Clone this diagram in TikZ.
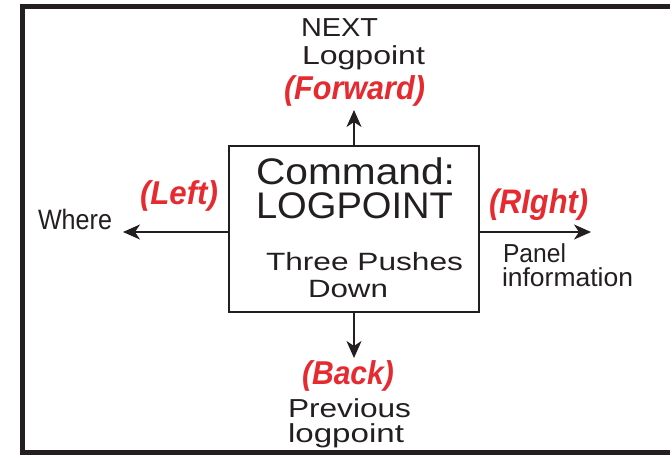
\documentclass[tikz,border=0pt]{standalone}
\usepackage{fontspec}
\setmainfont{Liberation Sans}
\usepackage{graphicx}
\usetikzlibrary{arrows.meta}
\definecolor{ink}{HTML}{231F20}
\definecolor{redlab}{HTML}{E52A30}
\newcommand\fitw[2]{\resizebox{#1pt}{\height}{#2}}
\tikzset{
  txt/.style={anchor=base west, inner sep=0pt, outer sep=0pt, text=ink},
  heavy/.style={txt, font=\fontsize{26}{26}\selectfont},
  lab/.style={txt, text=redlab, font=\fontsize{33}{33}\selectfont\bfseries\itshape},
  arr/.style={draw=ink, line width=2pt, -{Stealth[length=17pt,width=15pt,inset=5pt]}},
}
\begin{document}
\begin{tikzpicture}[x=1pt,y=-1pt]
\useasboundingbox (0,0) rectangle (670,456);
\clip (0,0) rectangle (670,456);
\fill[white] (0,0) rectangle (670,456);
% frame
\draw[line width=5pt, draw=ink] (22.5,6.5) rectangle (720,452.5);
% central box
\node[draw=ink, line width=2.5pt, minimum width=250pt, minimum height=166pt, inner sep=0pt] (box) at (354,229) {};
% free ends
\coordinate (up) at (354,110);
\coordinate (dn) at (354,358);
\coordinate (lt) at (123,232);
\coordinate (rt) at (591,232);
\draw[arr] (box.north) -- (up);
\draw[arr] (box.south) -- (dn);
\draw[arr] (box.west |- lt) -- (lt);
\draw[arr] (box.east |- rt) -- (rt);
% box text
\node[txt, font=\fontsize{37}{37}\selectfont] (cmd) at (256,184) {\fitw{199}{Command:}};
\node[txt, font=\fontsize{37}{37}\selectfont] (lp) at (256,218) {\fitw{197}{LOGPOINT}};
\node[txt, font=\fontsize{25}{25}\selectfont] (three) at (266,270) {\fitw{197}{Three Pushes}};
\node[txt, font=\fontsize{25}{25}\selectfont] (down) at (308,297) {\fitw{80}{Down}};
% top
\node[txt, font=\fontsize{26}{26}\selectfont] (next) at (301,36) {\fitw{77}{NEXT}};
\node[txt, font=\fontsize{26}{26}\selectfont] (nlp) at (302,64) {\fitw{123}{Logpoint}};
\node[lab] (fwd) at (284,99) {\fitw{141}{(Forward)}};
% bottom
\node[lab] (back) at (302,384) {\fitw{92}{(Back)}};
\node[txt, font=\fontsize{26}{26}\selectfont] (prev) at (288,417) {\fitw{123}{Previous}};
\node[txt, font=\fontsize{26}{26}\selectfont] (plp) at (288,442) {\fitw{116}{logpoint}};
% left
\node[lab] (left) at (140,204) {\fitw{78}{(Left)}};
\node[heavy, font=\fontsize{28}{28}\selectfont] (where) at (38,229) {\fitw{74}{Where}};
% right
\node[lab, font=\fontsize{34}{34}\selectfont\bfseries\itshape] (right) at (489,213) {\fitw{99}{(RIght)}};
\node[heavy] (panel) at (503,262) {\fitw{63}{Panel}};
\node[heavy] (info) at (502,286) {\fitw{131}{information}};
\end{tikzpicture}
\end{document}
